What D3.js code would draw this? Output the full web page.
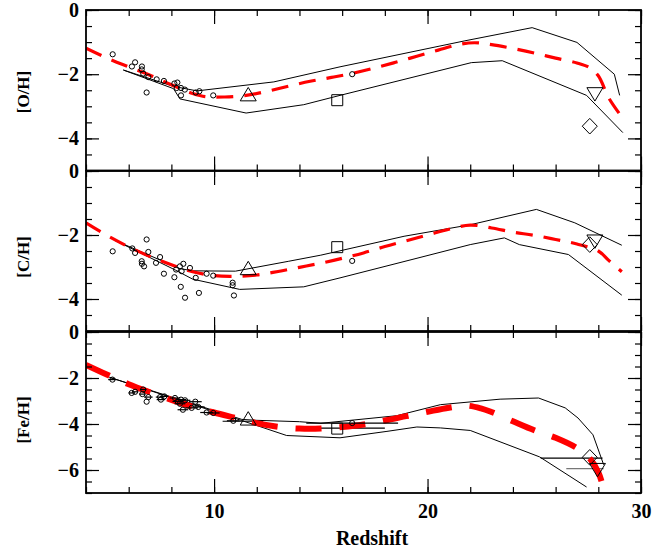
<!DOCTYPE html>
<html>
<head>
<meta charset="utf-8">
<script src="https://cdn.jsdelivr.net/npm/d3@7"></script>
<style>
  body { margin: 0; background: #fff; }
</style>
</head>
<body>
<svg id="chart"></svg>
<script>
// ---- data ----
const redshiftTicks = [10, 20, 30];

// [O/H]
const ohModel = [[4,-1.19],[5,-1.50],[6,-1.77],[7,-2.03],[8,-2.33],[9,-2.60],[9.6,-2.70],[10.5,-2.71],[11.5,-2.66],[12.5,-2.53],[13.5,-2.37],[14.5,-2.22],[15.5,-2.10],[16.5,-1.97],[17.5,-1.81],[18.5,-1.63],[19.5,-1.44],[20.5,-1.25],[21.5,-1.07],[22.2,-1.02],[23,-1.08],[24,-1.20],[25,-1.34],[26,-1.50],[27,-1.65],[27.6,-1.80],[28,-2.05],[28.5,-2.75],[29.1,-3.33]];
const ohUpper = [[5.75,-1.87],[8.1,-2.38],[9.2,-2.52],[12.8,-2.24],[15.9,-1.77],[21.75,-0.96],[24.9,-0.55],[27.0,-1.01],[28.75,-2.0],[29.0,-2.66]];
const ohLower = [[5.75,-1.87],[8.1,-2.45],[8.4,-2.77],[11.5,-3.21],[14.2,-2.95],[15.9,-2.66],[22.05,-1.64],[23.5,-1.58],[27.45,-2.66],[29.15,-3.82]];
const ohCircZ = [5.25,6.15,6.30,6.62,6.61,6.68,6.92,6.84,7.31,7.65,8.14,8.28,8.25,8.45,8.45,8.63,9.31,9.14,9.96,16.47];
const ohCircV = [-1.38,-1.76,-1.63,-1.76,-1.85,-1.98,-2.09,-2.57,-2.16,-2.21,-2.29,-2.26,-2.43,-2.43,-2.66,-2.48,-2.53,-2.57,-2.66,-2.0];
const ohMarkers = [["up",11.6,-2.69],["square",15.77,-2.81],["down",27.84,-2.56],["diamond",27.6,-3.62]];

// [C/H]
const chModel = [[4,-1.62],[5,-2.02],[6,-2.37],[7,-2.67],[8,-2.93],[9,-3.15],[10,-3.27],[11,-3.29],[12,-3.25],[13,-3.14],[14,-3.01],[15,-2.88],[16,-2.73],[17,-2.56],[18,-2.36],[19,-2.18],[20,-2.0],[21,-1.82],[22,-1.69],[23,-1.78],[24,-1.91],[25,-2.01],[26,-2.14],[27,-2.28],[28,-2.5],[28.5,-2.8],[29.1,-3.15]];
const chUpper = [[5.36,-2.17],[8.4,-3.05],[9.0,-3.12],[11.0,-3.13],[13.5,-2.82],[15.0,-2.63],[18.9,-2.04],[22.0,-1.68],[25.1,-1.2],[26.9,-1.62],[29.1,-2.32]];
const chLower = [[5.36,-2.17],[8.2,-3.1],[9.0,-3.38],[11.2,-3.7],[14.2,-3.62],[15.9,-3.34],[19.6,-2.71],[22.0,-2.3],[23.6,-2.09],[24.3,-2.3],[26.6,-2.61],[29.1,-3.88]];
const chCircZ = [5.25,6.17,6.30,6.84,6.92,6.61,6.62,6.72,7.28,7.47,7.65,8.14,8.22,8.40,8.56,8.48,8.44,8.64,8.87,9.14,9.29,9.65,9.96,10.87,10.87,10.93,16.47];
const chCircV = [-2.51,-2.42,-2.56,-2.14,-2.53,-2.82,-2.9,-2.98,-2.87,-2.69,-3.21,-3.32,-3.08,-2.98,-2.9,-3.13,-3.62,-3.96,-3.03,-3.34,-3.81,-3.21,-3.27,-3.49,-3.57,-3.89,-2.81];
const chMarkers = [["up",11.6,-3.10],["square",15.77,-2.38],["down",27.84,-2.14],["diamond",27.6,-2.30]];

// [Fe/H]
const feModel = [[4,-1.43],[5,-1.86],[6,-2.27],[7,-2.62],[8,-2.95],[9,-3.25],[10,-3.5],[11,-3.73],[12,-3.96],[13,-4.12],[14,-4.2],[15,-4.2],[16,-4.13],[17,-4.02],[18,-3.85],[19,-3.66],[20,-3.47],[21,-3.29],[21.8,-3.2],[22.5,-3.32],[23,-3.48],[24,-3.88],[25,-4.27],[26,-4.6],[27,-5.05],[27.6,-5.5],[28,-6.1],[28.3,-7.0],[28.4,-7.4]];
const feUpper = [[5.1,-1.97],[11.3,-3.8],[12.0,-3.84],[14.0,-3.9],[15.0,-3.97],[18.55,-3.64],[20.6,-3.16],[23.4,-2.92],[25.2,-2.87],[26.45,-3.3],[27.05,-3.74],[27.75,-4.47],[28.25,-5.77]];
const feLower = [[5.1,-1.97],[11.3,-3.85],[13.4,-4.5],[15.9,-4.6],[18.1,-4.32],[19.5,-4.13],[20.6,-4.17],[22.0,-4.28],[25.25,-5.43],[27.45,-6.74]];
const feCircZ = [5.24,6.14,6.30,6.68,6.64,6.92,6.84,7.47,7.51,7.67,8.17,8.30,8.45,8.64,8.40,8.54,8.95,9.12,9.26,9.65,9.96,10.9,16.47];
const feCircV = [-2.07,-2.65,-2.6,-2.5,-2.7,-2.83,-3.03,-2.83,-2.94,-2.8,-2.87,-3.02,-2.94,-2.97,-3.12,-3.38,-3.3,-3.03,-3.26,-3.5,-3.52,-3.86,-3.96];
const feCircErr = [0.2,0.15,0.15,0.15,0.15,0.2,0,0.2,0.2,0.2,0.25,0.25,0.25,0.25,0.25,0.25,0.3,0.3,0.3,0.3,0.3,0.3,2.15];
const feMarkers = [["up",11.6,-3.85],["square",15.77,-4.2],["down",27.96,-5.91],["diamond",27.6,-5.45]];
const feBars = [[10.4,12.3,-3.88,"#000"],[14.33,18.0,-4.18,"#000"],[25.3,28.2,-5.48,"#000"],[26.5,28.25,-5.94,"#777"]];

// ---- layout ----
const width = 665, height = 548;
const margin = { left: 86, right: 24 };
const serif = "'Liberation Serif', 'Times New Roman', serif";

const svg = d3.select("#chart").attr("width", width).attr("height", height);

const x = d3.scaleLinear().domain([4, 30]).range([margin.left, width - margin.right]);

const panels = [
  { top: 10,  bottom: 170.5, domain: [-5, 0], label: "[O/H]",  labelY: 92,  model: ohModel, upper: ohUpper, lower: ohLower, cz: ohCircZ, cv: ohCircV, markers: ohMarkers, thick: false },
  { top: 171, bottom: 331,   domain: [-5, 0], label: "[C/H]",  labelY: 257, model: chModel, upper: chUpper, lower: chLower, cz: chCircZ, cv: chCircV, markers: chMarkers, thick: false },
  { top: 332, bottom: 493,   domain: [-7, 0], label: "[Fe/H]", labelY: 420, model: feModel, upper: feUpper, lower: feLower, cz: feCircZ, cv: feCircV, err: feCircErr, bars: feBars, markers: feMarkers, thick: true }
];

const shapes = {
  up: "M0,-8.9L8,4.5L-8,4.5Z",
  down: "M0,8.9L8,-4.5L-8,-4.5Z",
  square: "M-5.5,-5.5H5.5V5.5H-5.5Z",
  diamond: "M0,-7.8L7.5,0L0,7.8L-7.5,0Z"
};

panels.forEach((p, i) => {
  const y = d3.scaleLinear().domain(p.domain).range([p.bottom, p.top]);
  const g = svg.append("g");

  const clipId = "clip" + i;
  svg.append("clipPath").attr("id", clipId)
    .append("rect")
    .attr("x", x.range()[0]).attr("y", p.top)
    .attr("width", x.range()[1] - x.range()[0]).attr("height", p.bottom - p.top);

  const plot = g.append("g").attr("clip-path", `url(#${clipId})`);

  const straight = d3.line().x(d => x(d[0])).y(d => y(d[1]));
  const smooth = d3.line().x(d => x(d[0])).y(d => y(d[1])).curve(d3.curveCatmullRom);

  // model band
  [p.upper, p.lower].forEach(s => {
    plot.append("path").attr("d", straight(s))
      .attr("fill", "none").attr("stroke", "#000").attr("stroke-width", 1);
  });

  // horizontal error bars
  if (p.bars) {
    plot.selectAll(".bar").data(p.bars).enter().append("line")
      .attr("x1", d => x(d[0])).attr("x2", d => x(d[1]))
      .attr("y1", d => y(d[2])).attr("y2", d => y(d[2]))
      .attr("stroke", d => d[3]).attr("stroke-width", 1.2);
  }

  // red dashed model
  plot.append("path").attr("d", smooth(p.model))
    .attr("fill", "none").attr("stroke", "#ff0000")
    .attr("stroke-width", p.thick ? 6 : 3.2)
    .attr("stroke-dasharray", p.thick ? "26,18" : "17,11");

  // circles
  const pts = p.cz.map((z, k) => [z, p.cv[k], p.err ? p.err[k] : 0]);
  plot.selectAll(".err").data(pts.filter(d => d[2] > 0)).enter().append("line")
    .attr("x1", d => x(d[0] - d[2])).attr("x2", d => x(d[0] + d[2]))
    .attr("y1", d => y(d[1])).attr("y2", d => y(d[1]))
    .attr("stroke", "#000").attr("stroke-width", 1.2);
  plot.selectAll(".pt").data(pts).enter().append("circle")
    .attr("cx", d => x(d[0])).attr("cy", d => y(d[1])).attr("r", 2.6)
    .attr("fill", "none").attr("stroke", "#000").attr("stroke-width", 1);

  // big markers
  plot.selectAll(".mk").data(p.markers).enter().append("path")
    .attr("d", d => shapes[d[0]])
    .attr("transform", d => `translate(${x(d[1])},${y(d[2])})`)
    .attr("fill", "none").attr("stroke", "#000").attr("stroke-width", 1);

  // axes, ticks pointing inward
  const yMajorTicks = d3.range(0, p.domain[0] - 0.01, -2);
  const yMinorTicks = d3.range(0, p.domain[0] - 0.01, -0.5);
  const xMinorTicks = d3.range(4, 30.01, 2);

  g.append("g").attr("transform", `translate(${x.range()[0]},0)`)
    .call(d3.axisLeft(y).tickValues(yMinorTicks).tickSize(-6).tickFormat(""));
  g.append("g").attr("transform", `translate(${x.range()[0]},0)`)
    .call(d3.axisLeft(y).tickValues(yMajorTicks).tickSize(-13).tickPadding(7).tickFormat(d3.format("d")));
  g.append("g").attr("transform", `translate(${x.range()[1]},0)`)
    .call(d3.axisRight(y).tickValues(yMinorTicks).tickSize(-6).tickFormat(""));
  g.append("g").attr("transform", `translate(${x.range()[1]},0)`)
    .call(d3.axisRight(y).tickValues(yMajorTicks).tickSize(-13).tickFormat(""));

  g.append("g").attr("transform", `translate(0,${p.top})`)
    .call(d3.axisTop(x).tickValues(xMinorTicks).tickSize(-6).tickFormat(""));
  g.append("g").attr("transform", `translate(0,${p.top})`)
    .call(d3.axisTop(x).tickValues(redshiftTicks).tickSize(-14).tickFormat(""));
  g.append("g").attr("transform", `translate(0,${p.bottom})`)
    .call(d3.axisBottom(x).tickValues(xMinorTicks).tickSize(-6).tickFormat(""));
  g.append("g").attr("transform", `translate(0,${p.bottom})`)
    .call(d3.axisBottom(x).tickValues(redshiftTicks).tickSize(-14).tickPadding(11)
      .tickFormat(i === panels.length - 1 ? d3.format("d") : ""));

  g.selectAll("g").attr("font-family", serif).attr("font-size", 20);
  g.selectAll(".tick text").attr("fill", "#000").attr("font-weight", "bold");
  g.selectAll(".domain").remove();
  g.selectAll(".tick line").attr("stroke", "#000").attr("stroke-width", 1.2);

  // frame
  g.append("rect")
    .attr("x", x.range()[0]).attr("y", p.top)
    .attr("width", x.range()[1] - x.range()[0]).attr("height", p.bottom - p.top)
    .attr("fill", "none").attr("stroke", "#000").attr("stroke-width", 1.8);

  // y title
  g.append("text")
    .attr("transform", `translate(29,${p.labelY}) rotate(-90)`)
    .attr("text-anchor", "middle")
    .attr("font-family", serif)
    .attr("font-weight", "bold")
    .attr("font-size", 17)
    .text(p.label);
});

svg.append("text")
  .attr("x", 372).attr("y", 545)
  .attr("text-anchor", "middle")
  .attr("font-family", serif)
  .attr("font-weight", "bold")
  .attr("font-size", 20)
  .text("Redshift");
</script>
</body>
</html>
